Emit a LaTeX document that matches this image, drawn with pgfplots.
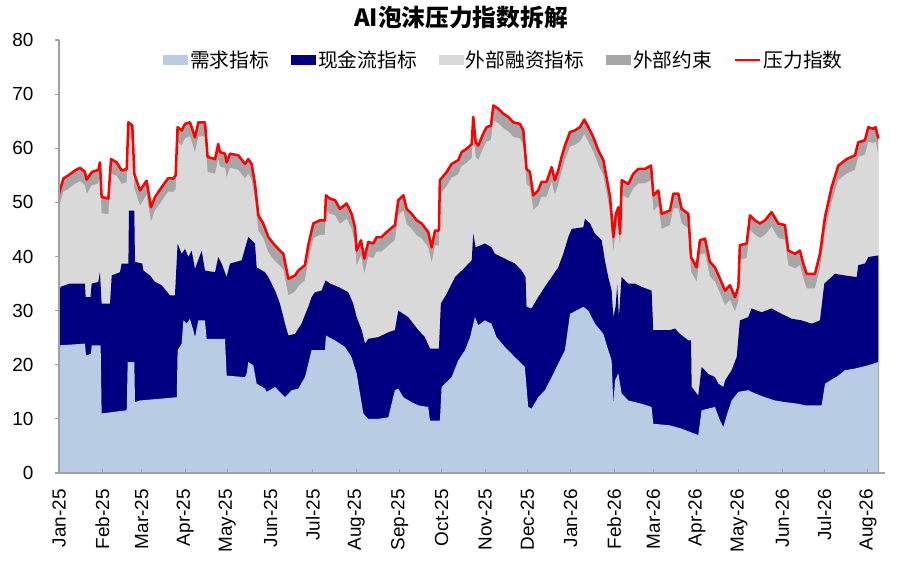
\documentclass[border=0pt]{standalone}
\usepackage{pgfplots}
\pgfplotsset{compat=1.18}
\usepackage{pgfplotstable}
\usepackage{fontspec}
\setmainfont{Liberation Sans}
\newfontfamily\cjk{Noto Sans CJK SC}
\definecolor{lblue}{RGB}{184,204,228}
\definecolor{navyc}{RGB}{0,0,128}
\definecolor{lgray}{RGB}{217,217,217}
\definecolor{dgray}{RGB}{166,166,166}
\definecolor{axgray}{RGB}{160,160,160}
\pgfplotsset{
 boxleg/.style={legend image code/.code={\fill[##1] (0pt,-3.75pt) rectangle (18.75pt,3.75pt);}},
 lineleg/.style={legend image code/.code={\draw[##1] (0pt,0pt) -- (18.75pt,0pt);}},
}
% total pressure index (red line, top of dark grey band)
\pgfplotstableread{
x y
0 51.6
3.1 54.4
6.7 55
11.4 55.9
15 56.4
18.5 55.6
19.7 54.2
23.3 55.6
28 56
29.2 57.4
30.4 51
35.2 50.7
37.1 58
41.1 57.4
44.7 55.9
48.3 56.2
49.5 64.8
52.3 64.2
53.7 55.3
57.8 52.2
62.5 54
65.6 49.1
68.5 51
73.2 52.8
78 54.5
81.5 54.4
83.2 55
84.6 63.9
87.5 63.3
89.9 64.5
93.4 64.8
97 62
99.4 64.8
104.1 64.8
106 58.4
111.3 58
113.6 60.8
114.8 59.3
118.4 59
119.6 57.4
122 59
127.9 58.7
132.7 57.1
135 58
137.4 57.1
139.8 53.4
142.2 47.6
145.7 46.1
149.3 43.6
152.9 42.4
156.4 41.4
160 40.5
163.6 35.9
168.3 36.5
170.7 37.4
175.4 38.4
177.8 42.1
181.4 46.1
186.2 46.7
189.7 46.7
190.4 51.3
193.3 50.7
196.9 50.4
200.4 48.8
205.2 49.8
208.7 47.9
211.1 45.4
212.3 41.1
215.4 43
217.8 39.6
220.6 42.7
224.2 42.4
226.6 43.6
230.1 43.6
234.9 44.8
239.6 45.8
242 50.4
245.6 51.3
248 48.8
251.5 47.9
255.1 46.7
258.7 46.1
263.4 44.5
265.8 41.7
268.2 44.8
271 44.8
271.7 54.1
276.5 55.6
280 57.1
284.8 57.8
287.2 59.3
290.8 59.9
294.4 60.8
295.5 65.8
297.2 61.1
299.1 60.5
302.6 62.7
305 63.9
308.1 64.2
309.8 67.9
313.4 67.3
316.9 66.4
320.5 65.8
324 64.8
328.8 64.5
331.2 63.3
333.5 56.2
335.9 55.6
338.3 51.3
341.8 52.2
344.2 53.8
347.8 53.8
351.4 56.5
353.7 54.1
356.1 55.9
358.5 58.4
360.9 60.5
364.5 63
368 63.3
371.6 63.9
374.7 65.3
377.6 63.9
381.2 62
384.7 59.6
388.3 57.8
390.7 54.4
393.1 51
395.4 43.6
397.3 47.9
399 49.1
400.2 44.2
401.4 54.1
406.1 53.4
409.7 55.3
413.3 56.2
418 56.2
422.3 56.8
424 51.3
427.5 52.2
429.9 47.9
435.8 48.5
438.2 51.6
441.8 51.6
444.1 48.8
448.9 47.9
450.8 39.9
454.8 38
457.2 43
460.8 43.3
464.3 39
467.9 38
471.5 35.9
475.1 33.7
478.6 34.7
482.2 32.5
484.6 34.4
485.7 42.1
490.5 42.4
492.9 47.6
496.4 46.7
500 46.1
503.6 46.7
508.3 48.2
513.1 46.1
517.8 45.8
520.2 41.1
525 40.5
528.5 41.1
530.9 38.7
533.3 36.8
539.2 36.8
542.8 40.5
546.4 47.3
551.1 52.8
555.9 56.8
561.8 58
567.8 58.7
570.1 61.1
574.9 61.5
577.3 63.9
580.8 63.6
582.5 63.9
584.4 61.8
}\total
% top of external financing band (light grey)
\pgfplotstableread{
x y
0 49.2
3.1 51.9
6.7 52.5
11.4 53.4
15 53.9
18.5 53.1
19.7 51.5
23.3 53.1
28 53.5
29.2 54.5
30.4 48
35.2 47.8
37.1 55.3
41.1 54.9
44.7 53.4
48.3 53.7
49.5 62
52.3 61.5
53.7 52.6
57.8 49.4
62.5 51.4
65.6 46.4
68.5 48.5
73.2 50.2
78 52
81.5 51.9
83.2 52.4
84.6 61.2
87.5 60.5
89.9 61.8
93.4 62.2
97 59.3
99.4 62.2
104.1 62.2
106 55.6
111.3 55.3
113.6 58
114.8 56.6
118.4 56.4
119.6 54.6
122 56.4
127.9 56
132.7 54.4
135 55.3
137.4 54.2
139.8 50.5
142.2 44.8
145.7 43.4
149.3 40.8
152.9 39.5
156.4 38.6
160 37.6
163.6 32.8
168.3 33.5
170.7 34.5
175.4 35.6
177.8 39.3
181.4 43.4
186.2 44
189.7 44
190.4 48.6
193.3 47.9
196.9 47.6
200.4 46
205.2 47
208.7 45.1
211.1 42.5
212.3 38.3
215.4 40.2
217.8 36.8
220.6 40
224.2 39.7
226.6 40.9
230.1 40.9
234.9 42
239.6 43
242 47.6
245.6 48.5
248 46
251.5 45.1
255.1 43.9
258.7 43.3
263.4 41.7
265.8 38.8
268.2 42
271 42
271.7 51.5
276.5 53
280 54.5
284.8 55.2
287.2 56.7
290.8 57.3
294.4 58.2
295.5 63
297.2 58.4
299.1 57.8
302.6 60
305 61.2
308.1 61.5
309.8 65.2
313.4 64.6
316.9 63.7
320.5 63.1
324 62.1
328.8 61.8
331.2 60.6
333.5 53.4
335.9 52.8
338.3 48.6
341.8 49.4
344.2 51
347.8 51
351.4 53.8
353.7 51.4
356.1 53.2
358.5 55.7
360.9 57.8
364.5 60.3
368 60.6
371.6 61.2
374.7 62.6
377.6 61.2
381.2 59.3
384.7 56.9
388.3 55
390.7 51.6
393.1 48.2
395.4 40.8
397.3 45.2
399 46.4
400.2 41.5
401.4 51.4
406.1 50.7
409.7 52.6
413.3 53.5
418 53.5
422.3 54.1
424 48.4
427.5 49.4
429.9 45.1
435.8 45.8
438.2 48.9
441.8 48.9
444.1 46.1
448.9 45.2
450.8 37.2
454.8 35.3
457.2 40.3
460.8 40.6
464.3 36.3
467.9 35.3
471.5 33.2
475.1 31
478.6 32
482.2 29.8
484.6 31.7
485.7 39.4
490.5 39.7
492.9 44.9
496.4 44
500 43.4
503.6 44
508.3 45.5
513.1 43.4
517.8 43.1
520.2 38.4
525 37.8
528.5 38.4
530.9 36
533.3 34.1
539.2 34.1
542.8 37.8
546.4 44.6
551.1 50.1
555.9 54.1
561.8 55.3
567.8 56
570.1 58.4
574.9 58.8
577.3 61.2
580.8 60.9
582.5 61.2
584.4 58.8
}\lg
% top of cash-flow band (navy)
\pgfplotstableread{
x y
0 32.2
1 34.4
7.8 35
18.5 35
19 32.5
22.5 32.5
23.3 35
28 35.3
29.2 37.1
30.4 31.3
36.4 31.3
37.6 36.5
43.5 37.1
44.7 38.7
49.5 38.7
49.9 48.5
53.7 48.5
54.2 39
59.4 38.7
60.2 37.4
64.9 36.5
68.5 35.3
73.2 34.7
79.2 32.8
82.7 32.8
84.6 42.4
87.5 40.5
89.9 41.4
92.3 39.9
94.6 41.1
97 37.7
101.8 41.1
104.1 37.4
111.3 37.1
113.6 39.9
116 38.7
119.6 36.2
122 38.7
130.3 39.3
135 43.6
139.8 42.4
141 38
146.9 37.1
149.3 36.2
154.1 33.7
157.6 31.3
161.2 27.6
163.6 25.4
168.3 25.7
173 27.6
177.8 30.7
180.2 32.5
182.6 33.4
187.3 33.7
190.2 35.6
193.3 35
199.2 34.4
206.3 33.4
209.9 31.3
212.3 28.8
215.9 26.4
218.3 23.9
220.6 24.8
227.8 25.1
234.9 26
239.6 26.4
242 30
245.6 29.4
249.1 28.8
252.7 27.6
256.3 26.4
261 25.1
264.6 23
271 23
272.4 31.3
276.5 33.1
282.5 36.2
289.6 38
294.4 39.3
295.5 44.2
297.2 41.7
303.8 42.4
308.5 41.7
310.9 40.5
315.7 39.9
320.5 39.3
325.2 38.7
330 37.4
332.8 36.2
333.5 30.7
337.1 30.4
341.8 32.5
346.6 34.4
351.4 36.2
356.1 38
359.7 40.5
363.3 43.6
365.7 45.1
374 45.4
375.2 47
378.8 46.1
382.3 44.2
387.1 43
389.4 39.3
391.8 36.2
394.2 33.7
395.4 28.8
397 30.7
398.2 34.7
399.4 28.8
401.3 36.2
406.1 35
410.8 35
415.6 34.4
422.7 33.7
423.9 26.4
435.8 26.4
439.4 26.7
442.9 25.7
448.9 24.5
450.8 24.5
451.3 15.9
456 14.3
458.4 19.6
463.2 18.3
467.9 17.7
470.3 16.5
473.9 15.9
475.1 17.1
479.8 19
483.4 21.4
485.7 28.2
491.7 28.8
494 30.4
501.2 29.7
508.3 30.4
515.5 29.4
522.6 28.5
529.7 28.2
536.9 27.6
542.8 28.2
545.9 35
553.5 36.8
560.6 36.5
569 36.2
570.1 38.4
574.9 38.7
577.3 39.9
584.4 40.2
}\dc
% demand indicator (light blue)
\pgfplotstableread{
x y
0 21.7
1 23.6
18.5 23.9
19.3 21.7
22.8 22
23.3 23.6
29.7 23.6
30.4 11
48.3 11.6
49 20.5
53.7 20.5
54.2 13.1
57.8 13.4
84 14
84.6 22.7
87.5 23.9
88.7 28.2
91.1 27.6
93.4 28.5
95.8 26.4
97 25.1
99.4 28.2
104.1 28.2
105.3 24.8
118.4 24.8
119.6 18
132.7 17.7
133.9 18.4
135 20.5
138.6 19.9
141 16.5
146.9 15.6
148.1 15
154.1 15.9
161.2 14
166 15.3
170.7 15.6
175.4 17.7
180.2 22.7
189.7 22.7
190.4 25.4
196.9 24.5
204 23.3
208.7 21.4
212.3 18.4
214.7 14.7
217.1 11
220.6 10
227.8 10
234.9 10.3
239.6 15.3
242 15.6
245.6 14
251.5 13.1
256.3 12.5
263.4 12.2
264.6 9.7
271.7 9.7
272.9 15.9
280 17.7
284.8 20.8
289.6 22.7
293.2 25.1
296.7 28.8
299.1 27.3
303.8 28.2
308.5 27.6
312.1 25.1
318 23.3
325.2 21.4
332.3 19.6
334.7 12.2
337.1 11.9
341.8 14
346.6 15.3
351.4 17.7
356.1 20.2
360.9 22.7
364.5 29.4
374 30.7
377.6 30
382.3 27.6
388.3 25.7
391.8 22.7
394.2 20.8
395.4 12.8
396.6 17.1
399 18.4
401.3 14.7
406.1 13.4
415.6 12.8
422.7 12.2
423.9 9.1
435.8 8.8
444.1 8.2
456 7
458.4 11.6
467.9 12.2
471.5 9.7
473.9 8.5
476.3 10.7
479.8 13.4
484.6 15
491.7 15.3
496.4 14.7
503.6 14
510.7 13.4
517.8 13.1
527.3 12.8
532.1 12.5
544 12.5
546.4 16.5
555.9 18
560.6 19
567.8 19.3
577.3 19.9
584.4 20.5
}\dd
\begin{document}
\begin{tikzpicture}
\path[use as bounding box] (0pt,0pt) rectangle (675pt,432pt);
\node[font=\cjk\bfseries\fontsize{17.8}{20}\selectfont] at (345.75pt,418.5pt) {AI泡沫压力指数拆解};
\begin{axis}[
  at={(44.25pt,77.25pt)}, anchor=south west,
  scale only axis, width=619.5pt, height=324.75pt,
  xmin=0, xmax=589.2, ymin=0, ymax=80,
  axis lines=left,
  axis line style={-, draw=axgray, line width=0.8pt},
  axis on top,
  tick align=outside,
  major tick length=3pt,
  tick style={draw=axgray, line width=0.8pt},
  x tick style={yshift=3pt},
  ytick={0,10,...,80},
  xtick={0,31,59,90,120,151,181,212,243,273,304,334,365,396,424,455,485,516,546,577},
  xticklabels={Jan-25,Feb-25,Mar-25,Apr-25,May-25,Jun-25,Jul-25,Aug-25,Sep-25,Oct-25,Nov-25,Dec-25,Jan-26,Feb-26,Mar-26,Apr-26,May-26,Jun-26,Jul-26,Aug-26},
  /pgf/number format/assume math mode=true,
  tick label style={font=\fontsize{14.2}{16}\selectfont, text=black},
  xticklabel style={rotate=90, anchor=east, inner xsep=9pt, inner ysep=0pt},
  yticklabel style={anchor=east, inner xsep=16pt, inner ysep=0pt},
  legend style={draw=none, fill=none, inner sep=0pt, at={(0.1259,0.9538)}, anchor=west,
    font=\cjk\fontsize{14.8}{17}\selectfont, legend columns=5,
    nodes={inner xsep=1.5pt, inner ysep=2pt},
    /tikz/every even column/.append style={column sep=15pt}},
  legend cell align=left,
]
\addplot[fill=dgray, draw=none, forget plot] table {\total} \closedcycle;
\addplot[fill=lgray, draw=none, forget plot] table {\lg} \closedcycle;
\addplot[fill=navyc, draw=none, forget plot] table {\dc} \closedcycle;
\addplot[fill=lblue, draw=none, forget plot] table {\dd} \closedcycle;
\addplot[color=red, line width=1.9pt, line join=round, forget plot] table {\total};
\addlegendimage{boxleg, fill=lblue, draw=none}
\addlegendentry{需求指标}
\addlegendimage{boxleg, fill=navyc, draw=none}
\addlegendentry{现金流指标}
\addlegendimage{boxleg, fill=lgray, draw=none}
\addlegendentry{外部融资指标}
\addlegendimage{boxleg, fill=dgray, draw=none}
\addlegendentry{外部约束}
\addlegendimage{lineleg, color=red, line width=1.9pt}
\addlegendentry{压力指数}
\end{axis}
\end{tikzpicture}
\end{document}
